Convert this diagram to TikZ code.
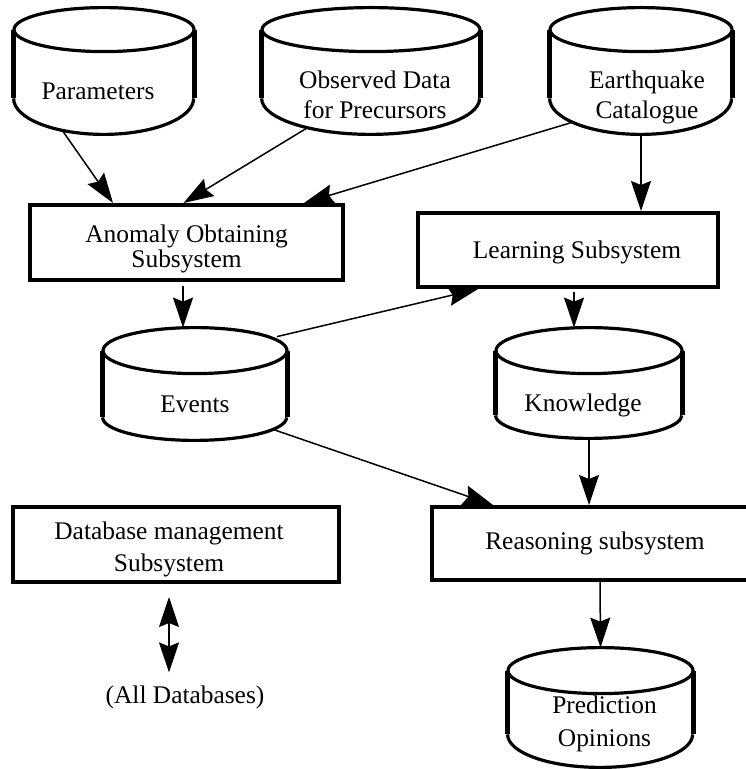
\documentclass[tikz,border=0pt]{standalone}
\usepackage{fontspec}
\setmainfont{Liberation Serif}
\usetikzlibrary{arrows.meta,calc}

% #1 node, #2 half width, #3 top depth, #4 bottom depth
\newcommand\drum[4]{%
  \draw[drumline] ([yshift=-#3*0.5pt]#1.north west) -- ([yshift=#4*0.5pt]#1.south west)
    ([yshift=-#3*0.5pt]#1.north east) -- ([yshift=#4*0.5pt]#1.south east);
  \draw[drumarc] ([yshift=#4*0.5pt]#1.south west) arc[start angle=180,end angle=360,x radius=#2*0.5pt,y radius=#4*0.5pt];
  \draw[drumarc] ([yshift=-#3*0.5pt]#1.north) ellipse[x radius=#2*0.5pt,y radius=#3*0.5pt];
}

\begin{document}
\begin{tikzpicture}[x=0.5pt,y=0.5pt,font=\fontsize{12.7}{15}\selectfont,
    box/.style 2 args={draw,line width=2pt,minimum width=#1*0.5pt,minimum height=#2*0.5pt,inner sep=0pt},
    drum/.style 2 args={minimum width=#1*0.5pt,minimum height=#2*0.5pt,inner sep=0pt},
    btxt/.style={align=center},
    dbtxt/.style={yshift=-10pt,align=center},
    drumline/.style={line width=2.5pt},
    drumarc/.style={line width=1.6pt},
    arr/.style={line width=0.75pt,-{Stealth[length=15pt,width=10pt,inset=2pt]}},
    dbl/.style={line width=0.75pt,{Stealth[length=15pt,width=10pt,inset=2pt]}-{Stealth[length=15pt,width=10pt,inset=2pt]}}]
  \useasboundingbox (0,0) rectangle (745,-769);

  \node[drum={180}{126},label={[dbtxt,xshift=-3pt]center:Parameters}] (par) at (104,-71) {};
  \node[drum={218}{126},label={[dbtxt,yshift=-2pt,xshift=2pt]center:{Observed Data\\for Precursors}}] (obs) at (371,-71) {};
  \node[drum={182}{126},label={[dbtxt,yshift=-3pt,xshift=3pt]center:{Earthquake\\Catalogue}}] (eqk) at (641,-71) {};
  \node[box={313}{75},label={[btxt,yshift=-3pt,font=\fontsize{12.7}{11.3}\selectfont]center:{Anomaly Obtaining\\Subsystem}}] (anom) at (186.5,-242.5) {};
  \node[box={300}{74},label={[btxt,yshift=-1pt,xshift=4.5pt]center:Learning Subsystem}] (learn) at (568,-250) {};
  \node[drum={184}{112},label={[dbtxt]center:Events}] (evt) at (195,-384) {};
  \node[drum={186}{110},label={[dbtxt,yshift=-1pt,xshift=-3pt]center:Knowledge}] (know) at (589,-383) {};
  \node[box={326}{75},label={[btxt,yshift=-2.5pt,xshift=-3.5pt,font=\fontsize{12.7}{16}\selectfont]center:{Database management\\Subsystem}}] (dbm) at (176,-544.5) {};
  \node[box={326}{73},label={[btxt]center:Reasoning subsystem}] (reas) at (595,-543.5) {};
  \node[drum={185}{119},label={[dbtxt,yshift=2pt,xshift=2pt,font=\fontsize{12.7}{16.5}\selectfont]center:{Prediction\\Opinions}}] (pred) at (600.5,-707.5) {};
  \node (alldb) at (185,-697) {(All Databases)};

  \drum{par}{90}{22}{36}
  \drum{obs}{109}{22}{36}
  \drum{eqk}{91}{22}{36}
  \drum{evt}{92}{23}{23}
  \drum{know}{93}{23}{23}
  \drum{pred}{92.5}{23}{33}

  \draw[arr] ($(par.south)+(-41,3)$) -- ($(anom.north west)+(85,0)$);
  \draw[arr] ($(obs.south)+(-63,7)$) -- ($(anom.north)+(-3,0)$);
  \draw[arr] ($(eqk.south)+(-69,12)$) -- ($(anom.north east)+(-41,0)$);
  \draw[arr] (eqk.south) -- (eqk.south |- learn.north);
  \draw[arr] ($(anom.south)+(-3.5,-4)$) -- ($(evt.north)+(-12,0)$);
  \draw[arr] ($(evt.north)+(82,-9)$) -- ($(learn.south west)+(62,0)$);
  \draw[arr] ($(learn.south)+(6,-3)$) -- ($(know.north)+(-15,0)$);
  \draw[arr] (know.south) -- (know.south |- reas.north);
  \draw[arr] ($(evt.south)+(78,11)$) -- ($(reas.north west)+(63,0)$);
  \draw[arr] ($(reas.south)+(5,0)$) -- (pred.north);
  \draw[dbl] ($(dbm.south)+(-7,-13)$) -- ($(alldb.north)+(-16,6)$);
\end{tikzpicture}
\end{document}
